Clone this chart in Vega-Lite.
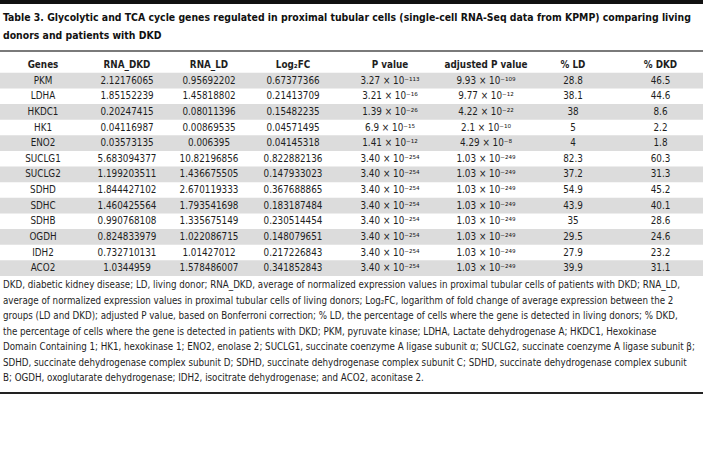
{
  "$schema": "https://vega.github.io/schema/vega-lite/v6.json",
  "padding": 0,
  "spacing": 0,
  "background": "white",
  "config": {
    "view": {"stroke": null},
    "font": "DejaVu Sans Condensed, DejaVu Sans",
    "text": {"font": "DejaVu Sans Condensed, DejaVu Sans", "fontSize": 9.8, "color": "#1e1e1e", "baseline": "middle", "align": "center"},
    "title": {"font": "DejaVu Sans Condensed, DejaVu Sans"}
  },
  "data": {
    "values": [
      {"Gene": "PKM", "RNA_DKD": "2.12176065", "RNA_LD": "0.95692202", "Log2FC": "0.67377366", "P": "3.27 × 10⁻¹¹³", "adjP": "9.93 × 10⁻¹⁰⁹", "LD": "28.8", "DKD": "46.5"},
      {"Gene": "LDHA", "RNA_DKD": "1.85152239", "RNA_LD": "1.45818802", "Log2FC": "0.21413709", "P": "3.21 × 10⁻¹⁶", "adjP": "9.77 × 10⁻¹²", "LD": "38.1", "DKD": "44.6"},
      {"Gene": "HKDC1", "RNA_DKD": "0.20247415", "RNA_LD": "0.08011396", "Log2FC": "0.15482235", "P": "1.39 × 10⁻²⁶", "adjP": "4.22 × 10⁻²²", "LD": "38", "DKD": "8.6"},
      {"Gene": "HK1", "RNA_DKD": "0.04116987", "RNA_LD": "0.00869535", "Log2FC": "0.04571495", "P": "6.9 × 10⁻¹⁵", "adjP": "2.1 × 10⁻¹⁰", "LD": "5", "DKD": "2.2"},
      {"Gene": "ENO2", "RNA_DKD": "0.03573135", "RNA_LD": "0.006395", "Log2FC": "0.04145318", "P": "1.41 × 10⁻¹²", "adjP": "4.29 × 10⁻⁸", "LD": "4", "DKD": "1.8"},
      {"Gene": "SUCLG1", "RNA_DKD": "5.683094377", "RNA_LD": "10.82196856", "Log2FC": "0.822882136", "P": "3.40 × 10⁻²⁵⁴", "adjP": "1.03 × 10⁻²⁴⁹", "LD": "82.3", "DKD": "60.3"},
      {"Gene": "SUCLG2", "RNA_DKD": "1.199203511", "RNA_LD": "1.436675505", "Log2FC": "0.147933023", "P": "3.40 × 10⁻²⁵⁴", "adjP": "1.03 × 10⁻²⁴⁹", "LD": "37.2", "DKD": "31.3"},
      {"Gene": "SDHD", "RNA_DKD": "1.844427102", "RNA_LD": "2.670119333", "Log2FC": "0.367688865", "P": "3.40 × 10⁻²⁵⁴", "adjP": "1.03 × 10⁻²⁴⁹", "LD": "54.9", "DKD": "45.2"},
      {"Gene": "SDHC", "RNA_DKD": "1.460425564", "RNA_LD": "1.793541698", "Log2FC": "0.183187484", "P": "3.40 × 10⁻²⁵⁴", "adjP": "1.03 × 10⁻²⁴⁹", "LD": "43.9", "DKD": "40.1"},
      {"Gene": "SDHB", "RNA_DKD": "0.990768108", "RNA_LD": "1.335675149", "Log2FC": "0.230514454", "P": "3.40 × 10⁻²⁵⁴", "adjP": "1.03 × 10⁻²⁴⁹", "LD": "35", "DKD": "28.6"},
      {"Gene": "OGDH", "RNA_DKD": "0.824833979", "RNA_LD": "1.022086715", "Log2FC": "0.148079651", "P": "3.40 × 10⁻²⁵⁴", "adjP": "1.03 × 10⁻²⁴⁹", "LD": "29.5", "DKD": "24.6"},
      {"Gene": "IDH2", "RNA_DKD": "0.732710131", "RNA_LD": "1.01427012", "Log2FC": "0.217226843", "P": "3.40 × 10⁻²⁵⁴", "adjP": "1.03 × 10⁻²⁴⁹", "LD": "27.9", "DKD": "23.2"},
      {"Gene": "ACO2", "RNA_DKD": "1.0344959", "RNA_LD": "1.578486007", "Log2FC": "0.341852843", "P": "3.40 × 10⁻²⁵⁴", "adjP": "1.03 × 10⁻²⁴⁹", "LD": "39.9", "DKD": "31.1"}
    ]
  },
  "vconcat": [
    {
      "width": 703, "height": 4,
      "view": {"fill": "#111111", "stroke": null},
      "data": {"values": []},
      "mark": "point"
    },
    {
      "width": 703, "height": 8,
      "data": {"values": []},
      "mark": "point"
    },
    {
      "width": 703, "height": 2,
      "view": {"fill": "#7a7a7a", "stroke": null},
      "data": {"values": []},
      "mark": "point",
      "title": {
        "text": ["Table 3. Glycolytic and TCA cycle genes regulated in proximal tubular cells (single-cell RNA-Seq data from KPMP) comparing living", "donors and patients with DKD"],
        "anchor": "start", "dx": 3, "fontSize": 10.4, "fontWeight": "bold", "lineHeight": 18, "offset": 9, "color": "#111111"
      }
    },
    {
      "spacing": 0,
      "bounds": "flush",
      "hconcat": [
        {"width": 86, "height": 224, "layer": [
          {"transform": [{"window": [{"op": "row_number", "as": "rn"}]}, {"filter": "datum.rn % 2 == 1"}], "mark": {"type": "rect", "color": "#dcdcdc"}, "encoding": {"y": {"field": "Gene", "type": "nominal", "axis": null, "scale": {"domain": ["hdr","PKM","LDHA","HKDC1","HK1","ENO2","SUCLG1","SUCLG2","SDHD","SDHC","SDHB","OGDH","IDH2","ACO2"], "paddingInner": 0, "paddingOuter": 0.1667, "align": 1}}}},
          {"data": {"values": [{"h": "Genes"}]}, "mark": {"type": "text", "fontWeight": "bold"}, "encoding": {"y": {"datum": "hdr", "type": "nominal"}, "text": {"field": "h", "type": "nominal"}}},
          {"mark": "text", "encoding": {"y": {"field": "Gene", "type": "nominal"}, "text": {"field": "Gene", "type": "nominal"}}}
        ]},
        {"width": 82, "height": 224, "layer": [
          {"transform": [{"window": [{"op": "row_number", "as": "rn"}]}, {"filter": "datum.rn % 2 == 1"}], "mark": {"type": "rect", "color": "#dcdcdc"}, "encoding": {"y": {"field": "Gene", "type": "nominal", "axis": null, "scale": {"domain": ["hdr","PKM","LDHA","HKDC1","HK1","ENO2","SUCLG1","SUCLG2","SDHD","SDHC","SDHB","OGDH","IDH2","ACO2"], "paddingInner": 0, "paddingOuter": 0.1667, "align": 1}}}},
          {"data": {"values": [{"h": "RNA_DKD"}]}, "mark": {"type": "text", "fontWeight": "bold"}, "encoding": {"y": {"datum": "hdr", "type": "nominal"}, "text": {"field": "h", "type": "nominal"}}},
          {"mark": "text", "encoding": {"y": {"field": "Gene", "type": "nominal"}, "text": {"field": "RNA_DKD", "type": "nominal"}}}
        ]},
        {"width": 82, "height": 224, "layer": [
          {"transform": [{"window": [{"op": "row_number", "as": "rn"}]}, {"filter": "datum.rn % 2 == 1"}], "mark": {"type": "rect", "color": "#dcdcdc"}, "encoding": {"y": {"field": "Gene", "type": "nominal", "axis": null, "scale": {"domain": ["hdr","PKM","LDHA","HKDC1","HK1","ENO2","SUCLG1","SUCLG2","SDHD","SDHC","SDHB","OGDH","IDH2","ACO2"], "paddingInner": 0, "paddingOuter": 0.1667, "align": 1}}}},
          {"data": {"values": [{"h": "RNA_LD"}]}, "mark": {"type": "text", "fontWeight": "bold"}, "encoding": {"y": {"datum": "hdr", "type": "nominal"}, "text": {"field": "h", "type": "nominal"}}},
          {"mark": "text", "encoding": {"y": {"field": "Gene", "type": "nominal"}, "text": {"field": "RNA_LD", "type": "nominal"}}}
        ]},
        {"width": 86, "height": 224, "layer": [
          {"transform": [{"window": [{"op": "row_number", "as": "rn"}]}, {"filter": "datum.rn % 2 == 1"}], "mark": {"type": "rect", "color": "#dcdcdc"}, "encoding": {"y": {"field": "Gene", "type": "nominal", "axis": null, "scale": {"domain": ["hdr","PKM","LDHA","HKDC1","HK1","ENO2","SUCLG1","SUCLG2","SDHD","SDHC","SDHB","OGDH","IDH2","ACO2"], "paddingInner": 0, "paddingOuter": 0.1667, "align": 1}}}},
          {"data": {"values": [{"h": "Log₂FC"}]}, "mark": {"type": "text", "fontWeight": "bold"}, "encoding": {"y": {"datum": "hdr", "type": "nominal"}, "text": {"field": "h", "type": "nominal"}}},
          {"mark": "text", "encoding": {"y": {"field": "Gene", "type": "nominal"}, "text": {"field": "Log2FC", "type": "nominal"}}}
        ]},
        {"width": 108, "height": 224, "layer": [
          {"transform": [{"window": [{"op": "row_number", "as": "rn"}]}, {"filter": "datum.rn % 2 == 1"}], "mark": {"type": "rect", "color": "#dcdcdc"}, "encoding": {"y": {"field": "Gene", "type": "nominal", "axis": null, "scale": {"domain": ["hdr","PKM","LDHA","HKDC1","HK1","ENO2","SUCLG1","SUCLG2","SDHD","SDHC","SDHB","OGDH","IDH2","ACO2"], "paddingInner": 0, "paddingOuter": 0.1667, "align": 1}}}},
          {"data": {"values": [{"h": "P value"}]}, "mark": {"type": "text", "fontWeight": "bold"}, "encoding": {"y": {"datum": "hdr", "type": "nominal"}, "text": {"field": "h", "type": "nominal"}}},
          {"mark": "text", "encoding": {"y": {"field": "Gene", "type": "nominal"}, "text": {"field": "P", "type": "nominal"}}}
        ]},
        {"width": 84, "height": 224, "layer": [
          {"transform": [{"window": [{"op": "row_number", "as": "rn"}]}, {"filter": "datum.rn % 2 == 1"}], "mark": {"type": "rect", "color": "#dcdcdc"}, "encoding": {"y": {"field": "Gene", "type": "nominal", "axis": null, "scale": {"domain": ["hdr","PKM","LDHA","HKDC1","HK1","ENO2","SUCLG1","SUCLG2","SDHD","SDHC","SDHB","OGDH","IDH2","ACO2"], "paddingInner": 0, "paddingOuter": 0.1667, "align": 1}}}},
          {"data": {"values": [{"h": "adjusted P value"}]}, "mark": {"type": "text", "fontWeight": "bold"}, "encoding": {"y": {"datum": "hdr", "type": "nominal"}, "text": {"field": "h", "type": "nominal"}}},
          {"mark": "text", "encoding": {"y": {"field": "Gene", "type": "nominal"}, "text": {"field": "adjP", "type": "nominal"}}}
        ]},
        {"width": 90, "height": 224, "layer": [
          {"transform": [{"window": [{"op": "row_number", "as": "rn"}]}, {"filter": "datum.rn % 2 == 1"}], "mark": {"type": "rect", "color": "#dcdcdc"}, "encoding": {"y": {"field": "Gene", "type": "nominal", "axis": null, "scale": {"domain": ["hdr","PKM","LDHA","HKDC1","HK1","ENO2","SUCLG1","SUCLG2","SDHD","SDHC","SDHB","OGDH","IDH2","ACO2"], "paddingInner": 0, "paddingOuter": 0.1667, "align": 1}}}},
          {"data": {"values": [{"h": "% LD"}]}, "mark": {"type": "text", "fontWeight": "bold"}, "encoding": {"y": {"datum": "hdr", "type": "nominal"}, "text": {"field": "h", "type": "nominal"}}},
          {"mark": "text", "encoding": {"y": {"field": "Gene", "type": "nominal"}, "text": {"field": "LD", "type": "nominal"}}}
        ]},
        {"width": 85, "height": 224, "layer": [
          {"transform": [{"window": [{"op": "row_number", "as": "rn"}]}, {"filter": "datum.rn % 2 == 1"}], "mark": {"type": "rect", "color": "#dcdcdc"}, "encoding": {"y": {"field": "Gene", "type": "nominal", "axis": null, "scale": {"domain": ["hdr","PKM","LDHA","HKDC1","HK1","ENO2","SUCLG1","SUCLG2","SDHD","SDHC","SDHB","OGDH","IDH2","ACO2"], "paddingInner": 0, "paddingOuter": 0.1667, "align": 1}}}},
          {"data": {"values": [{"h": "% DKD"}]}, "mark": {"type": "text", "fontWeight": "bold"}, "encoding": {"y": {"datum": "hdr", "type": "nominal"}, "text": {"field": "h", "type": "nominal"}}},
          {"mark": "text", "encoding": {"y": {"field": "Gene", "type": "nominal"}, "text": {"field": "DKD", "type": "nominal"}}}
        ]}
      ]
    },
    {
      "width": 703, "height": 4,
      "data": {"values": []},
      "mark": "point"
    },
    {
      "width": 703, "height": 2,
      "view": {"fill": "#222222", "stroke": null},
      "data": {"values": []},
      "mark": "point",
      "title": {
        "text": [
          "DKD, diabetic kidney disease; LD, living donor; RNA_DKD, average of normalized expression values in proximal tubular cells of patients with DKD; RNA_LD,",
          "average of normalized expression values in proximal tubular cells of living donors; Log₂FC, logarithm of fold change of average expression between the 2",
          "groups (LD and DKD); adjusted P value, based on Bonferroni correction; % LD, the percentage of cells where the gene is detected in living donors; % DKD,",
          "the percentage of cells where the gene is detected in patients with DKD; PKM, pyruvate kinase; LDHA, Lactate dehydrogenase A; HKDC1, Hexokinase",
          "Domain Containing 1; HK1, hexokinase 1; ENO2, enolase 2; SUCLG1, succinate coenzyme A ligase subunit α; SUCLG2, succinate coenzyme A ligase subunit β;",
          "SDHD, succinate dehydrogenase complex subunit D; SDHD, succinate dehydrogenase complex subunit C; SDHD, succinate dehydrogenase complex subunit",
          "B; OGDH, oxoglutarate dehydrogenase; IDH2, isocitrate dehydrogenase; and ACO2, aconitase 2."
        ],
        "anchor": "start", "dx": 3, "fontSize": 9.7, "fontWeight": "normal", "lineHeight": 15.5, "offset": 9, "color": "#1e1e1e"
      }
    }
  ]
}
